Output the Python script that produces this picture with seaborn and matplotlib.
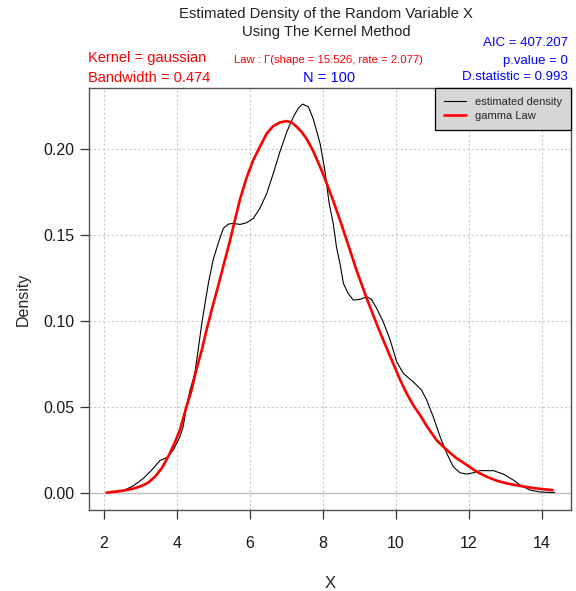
import seaborn as sns
import matplotlib.pyplot as plt
import pandas as pd

# values
kde_x = [2.30, 2.53, 2.80, 3.08, 3.31, 3.53, 3.73, 3.90, 4.08, 4.17, 4.26, 4.36, 4.49,
         4.58, 4.68, 4.77, 4.86, 4.99, 5.13, 5.27, 5.41, 5.54, 5.73, 5.91, 6.09, 6.27,
         6.46, 6.64, 6.82, 7.01, 7.19, 7.32, 7.44, 7.60, 7.73, 7.82, 7.92, 8.05, 8.17,
         8.28, 8.37, 8.47, 8.56, 8.69, 8.83, 9.01, 9.20, 9.33, 9.47, 9.65, 9.84, 10.02,
         10.20, 10.47, 10.70, 10.84, 11.02, 11.21, 11.39, 11.57, 11.75, 11.94, 12.12,
         12.30, 12.67, 12.94, 13.21, 13.40, 13.67, 13.95, 14.17, 14.35]
kde_y = [0.0003, 0.0014, 0.0041, 0.0085, 0.0134, 0.0188, 0.0207, 0.0250, 0.0327, 0.0386,
         0.0502, 0.0599, 0.0696, 0.0831, 0.0986, 0.1103, 0.1219, 0.1355, 0.1452, 0.1539,
         0.1564, 0.1568, 0.1562, 0.1572, 0.1597, 0.1655, 0.1742, 0.1859, 0.1984, 0.2101,
         0.2188, 0.2236, 0.2262, 0.2246, 0.2178, 0.2110, 0.2033, 0.1878, 0.1684, 0.1568,
         0.1430, 0.1330, 0.1219, 0.1161, 0.1122, 0.1126, 0.1141, 0.1126, 0.1074, 0.0996,
         0.0890, 0.0763, 0.0696, 0.0647, 0.0599, 0.0541, 0.0444, 0.0327, 0.0231, 0.0153,
         0.0118, 0.0110, 0.0118, 0.0130, 0.0130, 0.0110, 0.0076, 0.0047, 0.0017, 0.0006,
         0.0004, 0.0003]

gam_x = [2.07, 2.53, 2.80, 3.03, 3.21, 3.40, 3.58, 3.76, 3.95, 4.08, 4.26, 4.40, 4.54,
         4.68, 4.81, 4.95, 5.13, 5.27, 5.45, 5.59, 5.73, 5.91, 6.09, 6.27, 6.46, 6.64,
         6.82, 7.01, 7.14, 7.28, 7.41, 7.55, 7.73, 7.92, 8.05, 8.17, 8.28, 8.47, 8.65,
         8.79, 8.92, 9.10, 9.20, 9.33, 9.52, 9.70, 9.88, 10.11, 10.29, 10.47, 10.66,
         10.84, 11.11, 11.39, 11.66, 11.94, 12.21, 12.48, 12.76, 13.03, 13.40, 13.76,
         14.03, 14.29]
gam_y = [0.0002, 0.0014, 0.0025, 0.0041, 0.0060, 0.0095, 0.0143, 0.0211, 0.0298, 0.0366,
         0.0502, 0.0599, 0.0725, 0.0831, 0.0948, 0.1064, 0.1205, 0.1320, 0.1465, 0.1590,
         0.1710, 0.1835, 0.1936, 0.2013, 0.2091, 0.2134, 0.2155, 0.2163, 0.2155, 0.2130,
         0.2101, 0.2060, 0.1990, 0.1897, 0.1830, 0.1762, 0.1700, 0.1585, 0.1470, 0.1380,
         0.1295, 0.1190, 0.1130, 0.1060, 0.0957, 0.0865, 0.0775, 0.0660, 0.0580, 0.0512,
         0.0453, 0.0390, 0.0308, 0.0250, 0.0202, 0.0163, 0.0124, 0.0095, 0.0072, 0.0056,
         0.0041, 0.0029, 0.0022, 0.0017]

x_ticks = [2, 4, 6, 8, 10, 12, 14]
y_ticks = [0.00, 0.05, 0.10, 0.15, 0.20]

sns.set_style("white")
plt.rcParams['font.family'] = ['Liberation Sans', 'DejaVu Sans']

kde_df = pd.DataFrame({"x": kde_x, "density": kde_y})
gam_df = pd.DataFrame({"x": gam_x, "density": gam_y})

fig = plt.figure(figsize=(5.76, 5.91), dpi=100)
ax = fig.add_axes([0.1545, 0.137, 0.8365, 0.714])

for v in x_ticks:
    ax.axvline(v, color="#c8c8c8", lw=0.8, ls=(0, (2, 2)), zorder=0)
for v in y_ticks[1:]:
    ax.axhline(v, color="#c8c8c8", lw=0.8, ls=(0, (2, 2)), zorder=0)
ax.axhline(0, color="#c0c0c0", lw=1.0, zorder=0)

sns.lineplot(data=kde_df, x="x", y="density", ax=ax, color="black", lw=0.8,
             sort=False, label="estimated density")
sns.lineplot(data=gam_df, x="x", y="density", ax=ax, color="red", lw=1.9,
             sort=False, label="gamma Law")

ax.set_xlim(1.59, 14.79)
ax.set_ylim(-0.0099, 0.2355)
ax.set_xticks(x_ticks)
ax.set_yticks(y_ticks)
ax.set_yticklabels(["%.2f" % v for v in y_ticks])
ax.tick_params(axis="both", direction="out", length=6.5, width=0.9, color="#333333",
               labelsize=11.5, labelcolor="#1a1a1a", bottom=True, left=True)
ax.tick_params(axis="x", pad=12)
ax.tick_params(axis="y", pad=4)
for s in ax.spines.values():
    s.set_color("#555555")
    s.set_linewidth(1.0)

ax.set_xlabel("X", fontsize=12, labelpad=18)
ax.set_ylabel("Density", fontsize=11.5, labelpad=9)

leg = ax.legend(loc="upper right", fontsize=8, frameon=True, fancybox=False,
                borderaxespad=0, handlelength=2.0, borderpad=0.8, labelspacing=0.35)
leg.get_frame().set_facecolor("#d6d6d6")
leg.get_frame().set_edgecolor("black")
leg.get_frame().set_linewidth(0.9)
leg.get_frame().set_alpha(1)

fig.text(0.566, 0.977, "Estimated Density of the Random Variable X", ha="center",
         va="center", fontsize=10.7, color="#222222")
fig.text(0.566, 0.9465, "Using The Kernel Method", ha="center", va="center",
         fontsize=10.7, color="#222222")
fig.text(0.153, 0.902, "Kernel = gaussian", ha="left", va="center", fontsize=10.5, color="red")
fig.text(0.153, 0.868, "Bandwidth = 0.474", ha="left", va="center", fontsize=10.5, color="red")
fig.text(0.571, 0.899, "Law : \u0393(shape = 15.526, rate = 2.077)", ha="center", va="center",
         fontsize=8.1, color="red")
fig.text(0.572, 0.868, "N = 100", ha="center", va="center", fontsize=10.5, color="blue")
fig.text(0.986, 0.927, "AIC = 407.207", ha="right", va="center", fontsize=9.5, color="blue")
fig.text(0.986, 0.897, "p.value = 0", ha="right", va="center", fontsize=9.5, color="blue")
fig.text(0.986, 0.870, "D.statistic = 0.993", ha="right", va="center", fontsize=9.5, color="blue")

fig.savefig("out.png", dpi=100)
